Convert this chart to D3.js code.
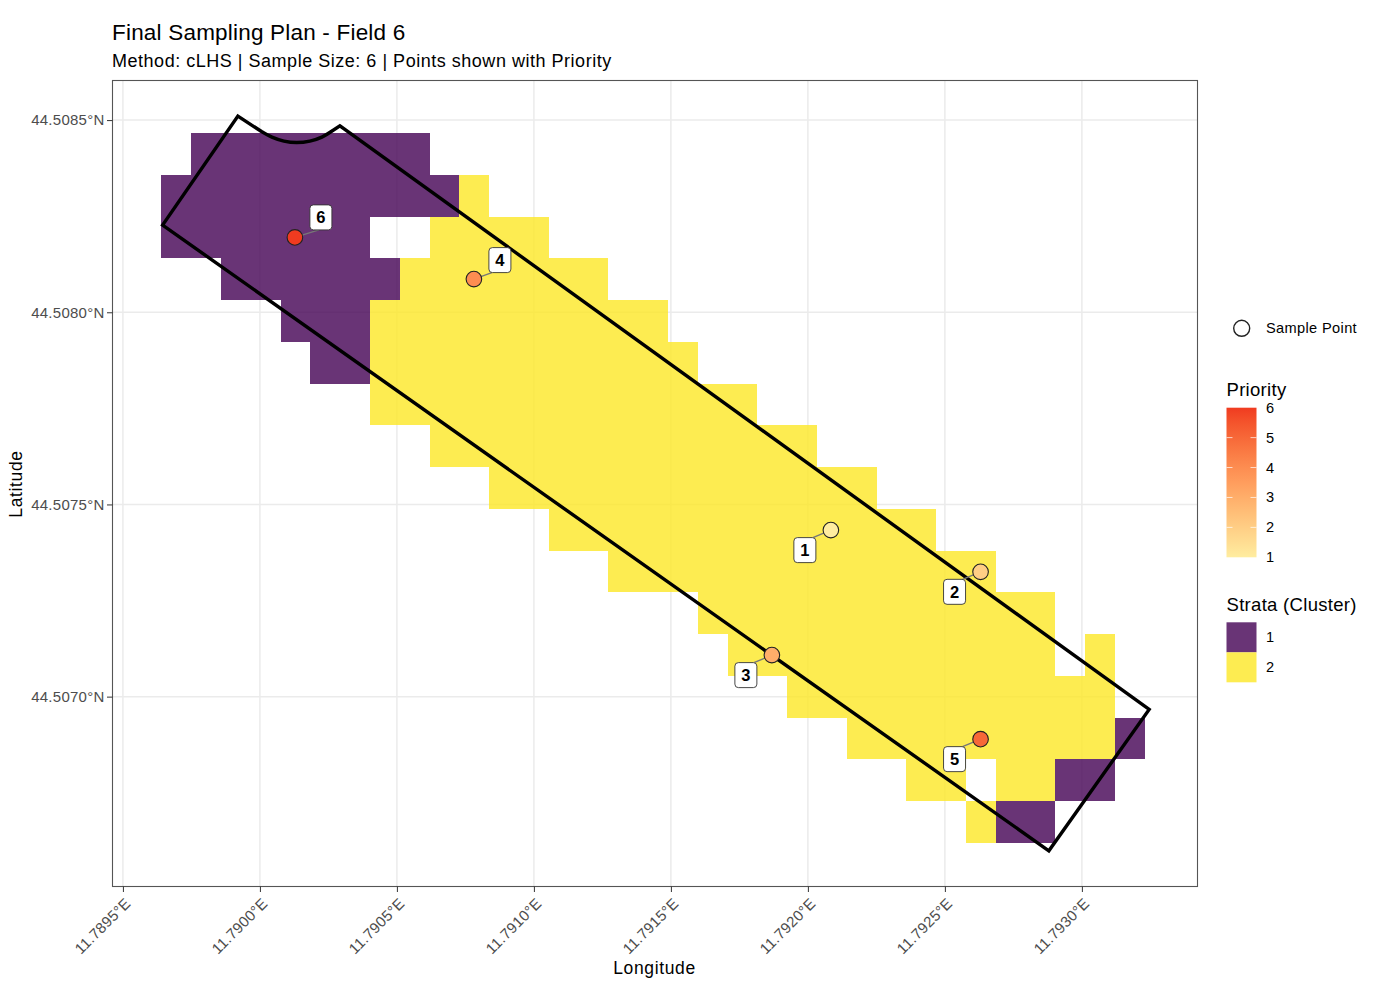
<!DOCTYPE html>
<html>
<head>
<meta charset="utf-8">
<script src="https://d3js.org/d3.v7.min.js"></script>
<style>
  body { margin: 0; background: #fff; }
  text { font-family: "Liberation Sans", Arial, sans-serif; }
</style>
</head>
<body>
<script>
// Data
const lonTicks = [11.7895, 11.79, 11.7905, 11.791, 11.7915, 11.792, 11.7925, 11.793];
const lonTickLabels = ["11.7895°E", "11.7900°E", "11.7905°E", "11.7910°E", "11.7915°E", "11.7920°E", "11.7925°E", "11.7930°E"];
const latTicks = [44.507, 44.5075, 44.508, 44.5085];
const latTickLabels = ["44.5070°N", "44.5075°N", "44.5080°N", "44.5085°N"];

// raster cell centres
const gridLons = [
  11.7896949, 11.7898037, 11.7899124, 11.7900212, 11.7901299, 11.7902387, 11.7903475, 11.7904562,
  11.790565, 11.7906737, 11.7907825, 11.7908913, 11.791, 11.7911088, 11.7912175, 11.7913263,
  11.7914351, 11.7915438, 11.7916526, 11.7917613, 11.7918701, 11.7919789, 11.7920876, 11.7921964,
  11.7923051, 11.7924139, 11.7925227, 11.7926314, 11.7927402, 11.7928489, 11.7929577, 11.7930665,
  11.7931752
];
const gridLats = [
  44.5084119, 44.5083032, 44.5081946, 44.5080859, 44.5079773, 44.5078686, 44.50776, 44.5076513,
  44.5075427, 44.507434, 44.5073254, 44.5072167, 44.5071081, 44.5069994, 44.5068908, 44.5067821,
  44.5066735
];
const cellLon = 0.00010876;
const cellLat = 0.00010865;

// runs of cells: row, first column, last column
const cluster1Runs = [
  [0, 1, 8], [1, 0, 9], [2, 0, 6], [3, 2, 7], [4, 4, 6], [5, 5, 6],
  [14, 32, 32], [15, 30, 31], [16, 28, 29]
];
const cluster2Runs = [
  [1, 10, 10], [2, 9, 12], [3, 8, 14], [4, 7, 16], [5, 7, 17], [6, 7, 19], [7, 9, 21], [8, 11, 23],
  [9, 13, 25], [10, 15, 27], [11, 18, 29], [12, 19, 29], [12, 31, 31], [13, 21, 31], [14, 23, 31],
  [15, 25, 26], [15, 28, 29], [16, 27, 27]
];

// field boundary: corners, and the curved notch along the top edge
const notchLon = [
  11.7900073, 11.7900438, 11.7900876, 11.7901339, 11.7901825, 11.7902263, 11.7902591
];
const notchLat = [
  44.5084696, 44.5084558, 44.5084454, 44.5084415, 44.5084454, 44.5084558, 44.5084696
];
const cornerLon = [11.7899197, 11.790292, 11.7932456, 11.7928795, 11.7896449];
const cornerLat = [44.5085104, 44.5084852, 44.5069667, 44.5065988, 44.5082268];

// sample points
const pointPriority = [1, 2, 3, 4, 5, 6];
const pointLon = [11.7920839, 11.7926302, 11.7918686, 11.790781, 11.7926302, 11.7901277];
const pointLat = [44.5074332, 44.5073247, 44.507108, 44.5080863, 44.5068894, 44.5081948];

const priorityTicks = [1, 2, 3, 4, 5, 6];
const strataLabels = ["1", "2"];
const strataColors = ["#440154", "#FDE725"];
const priorityColors = ["#FFEDA0", "#F03B20"];

/********************************************************/
const svgWidth = 1376;
const svgHeight = 1001;
const panel = { left: 112.5, right: 1197.5, top: 80.5, bottom: 886.5 };
const greyText = "#4d4d4d";

const svg = d3.select("body").append("svg")
  .attr("width", svgWidth)
  .attr("height", svgHeight)
  .style("display", "block");

const x = d3.scaleLinear().domain([11.789462, 11.793422]).range([panel.left, panel.right]);
const y = d3.scaleLinear().domain([44.506506, 44.508603]).range([panel.bottom, panel.top]);
const priorityColor = d3.scaleLinear().domain([1, 6]).range(priorityColors).interpolate(d3.interpolateLab);
const priorityY = d3.scaleLinear().domain([1, 6]).range([557.3, 407.7]);

/********************************************************/
// grid lines
svg.append("g").selectAll("line").data(lonTicks).enter().append("line")
  .attr("x1", (d) => x(d)).attr("x2", (d) => x(d))
  .attr("y1", panel.top).attr("y2", panel.bottom)
  .attr("stroke", "#ebebeb").attr("stroke-width", 1.5);
svg.append("g").selectAll("line").data(latTicks).enter().append("line")
  .attr("x1", panel.left).attr("x2", panel.right)
  .attr("y1", (d) => y(d)).attr("y2", (d) => y(d))
  .attr("stroke", "#ebebeb").attr("stroke-width", 1.5);

// raster cells
function runsToCells(runs, cluster) {
  const cells = [];
  runs.forEach(([row, first, last]) => {
    for (let c = first; c <= last; c++) {
      cells.push({ lon: gridLons[c], lat: gridLats[row], cluster: cluster });
    }
  });
  return cells;
}
const cells = runsToCells(cluster1Runs, 0).concat(runsToCells(cluster2Runs, 1));

svg.append("g").selectAll("rect").data(cells).enter().append("rect")
  .attr("x", (d) => x(d.lon - cellLon / 2))
  .attr("y", (d) => y(d.lat + cellLat / 2))
  .attr("width", (d) => x(d.lon + cellLon / 2) - x(d.lon - cellLon / 2))
  .attr("height", (d) => y(d.lat - cellLat / 2) - y(d.lat + cellLat / 2))
  .attr("fill", (d) => strataColors[d.cluster])
  .attr("fill-opacity", 0.8)
  .attr("shape-rendering", "crispEdges");

// field boundary
const cornerLine = d3.line().x((d) => x(d[0])).y((d) => y(d[1]));
const notchLine = d3.line().x((d) => x(d[0])).y((d) => y(d[1])).curve(d3.curveCatmullRom);
const corners = d3.zip(cornerLon, cornerLat);
svg.append("path")
  .attr("d", cornerLine(corners.slice(0, 1))
    + notchLine(d3.zip(notchLon, notchLat)).replace("M", "L")
    + "L" + cornerLine(corners.slice(1)).slice(1) + "Z")
  .attr("fill", "none")
  .attr("stroke", "#000")
  .attr("stroke-width", 3.4)
  .attr("stroke-linejoin", "miter");

/********************************************************/
// point labels: offset of the box from its point, where the leader meets the box
const labelOffsets = {
  1: { dx: -26, dy: 20, segX: 8 },
  2: { dx: -26, dy: 20, segX: 8 },
  3: { dx: -26, dy: 20, segX: 8 },
  4: { dx: 26, dy: -19, segX: -8 },
  5: { dx: -26, dy: 20, segX: 8 },
  6: { dx: 26, dy: -20, segX: -2 },
};
const boxW = 22;
const boxH = 25;
const points = pointPriority.map((p, i) => ({ priority: p, lon: pointLon[i], lat: pointLat[i] }));

svg.append("g").selectAll("line").data(points).enter().append("line")
  .attr("x1", (d) => x(d.lon))
  .attr("y1", (d) => y(d.lat))
  .attr("x2", (d) => x(d.lon) + labelOffsets[d.priority].dx + labelOffsets[d.priority].segX)
  .attr("y2", (d) => y(d.lat) + labelOffsets[d.priority].dy + (labelOffsets[d.priority].dy > 0 ? -boxH / 2 : boxH / 2))
  .attr("stroke", "#777").attr("stroke-width", 1.4);

svg.append("g").selectAll("circle").data(points).enter().append("circle")
  .attr("cx", (d) => x(d.lon))
  .attr("cy", (d) => y(d.lat))
  .attr("r", 7.8)
  .attr("fill", (d) => priorityColor(d.priority))
  .attr("stroke", "#222").attr("stroke-width", 1.1);

const labelGroup = svg.append("g").selectAll("g").data(points).enter().append("g")
  .attr("transform", (d) => `translate(${x(d.lon) + labelOffsets[d.priority].dx}, ${y(d.lat) + labelOffsets[d.priority].dy})`);
labelGroup.append("rect")
  .attr("x", -boxW / 2).attr("y", -boxH / 2)
  .attr("width", boxW).attr("height", boxH)
  .attr("rx", 3.5)
  .attr("fill", "#fff").attr("stroke", "#333").attr("stroke-width", 0.9);
labelGroup.append("text")
  .text((d) => d.priority)
  .attr("text-anchor", "middle")
  .attr("y", 6)
  .attr("font-size", 16.5)
  .attr("font-weight", "bold")
  .attr("fill", "#000");

/********************************************************/
// panel border and axes
svg.append("rect")
  .attr("x", panel.left).attr("y", panel.top)
  .attr("width", panel.right - panel.left).attr("height", panel.bottom - panel.top)
  .attr("fill", "none").attr("stroke", "#555").attr("stroke-width", 1.1);

const bottomAxis = d3.axisBottom(x).tickValues(lonTicks).tickSize(5.5).tickFormat((d, i) => lonTickLabels[i]);
const leftAxis = d3.axisLeft(y).tickValues(latTicks).tickSize(5.5).tickFormat((d, i) => latTickLabels[i]);

const xAxisGroup = svg.append("g").attr("transform", `translate(0, ${panel.bottom})`).call(bottomAxis);
const yAxisGroup = svg.append("g").attr("transform", `translate(${panel.left}, 0)`).call(leftAxis);
xAxisGroup.select(".domain").remove();
yAxisGroup.select(".domain").remove();
svg.selectAll(".tick line").attr("stroke", "#333").attr("stroke-width", 1);

xAxisGroup.selectAll("text")
  .attr("font-size", 15)
  .attr("font-family", "Liberation Sans")
  .attr("letter-spacing", 0.25)
  .attr("fill", greyText)
  .attr("text-anchor", "end")
  .attr("dy", 0)
  .attr("y", 0)
  .attr("transform", "translate(8, 18) rotate(-45)");
yAxisGroup.selectAll("text")
  .attr("font-size", 15)
  .attr("font-family", "Liberation Sans")
  .attr("letter-spacing", 0.25)
  .attr("fill", greyText)
  .attr("x", -8);

svg.append("text").attr("x", 654.5).attr("y", 974)
  .attr("text-anchor", "middle").attr("font-size", 17.5).attr("letter-spacing", 0.65).attr("fill", "#000").text("Longitude");
svg.append("text")
  .attr("transform", "translate(22, 484) rotate(-90)")
  .attr("text-anchor", "middle").attr("font-size", 17.5).attr("letter-spacing", 0.65).attr("fill", "#000").text("Latitude");

// titles
svg.append("text").attr("x", 112).attr("y", 39.5)
  .attr("font-size", 22.5).attr("letter-spacing", 0.2).attr("fill", "#000").text("Final Sampling Plan - Field 6");
svg.append("text").attr("x", 112).attr("y", 66.5)
  .attr("font-size", 18).attr("letter-spacing", 0.52).attr("fill", "#000").text("Method: cLHS | Sample Size: 6 | Points shown with Priority");

/********************************************************/
// legends
svg.append("circle").attr("cx", 1241.7).attr("cy", 328.3).attr("r", 8)
  .attr("fill", "#fff").attr("stroke", "#222").attr("stroke-width", 1.4);
svg.append("text").attr("x", 1266).attr("y", 333)
  .attr("font-size", 14.6).attr("letter-spacing", 0.35).attr("fill", "#000").text("Sample Point");

svg.append("text").attr("x", 1226.5).attr("y", 396)
  .attr("font-size", 18.5).attr("letter-spacing", 0.3).attr("fill", "#000").text("Priority");

const defs = svg.append("defs");
const gradient = defs.append("linearGradient").attr("id", "priorityGradient")
  .attr("x1", 0).attr("x2", 0).attr("y1", 1).attr("y2", 0);
d3.range(0, 1.01, 0.1).forEach((t) => {
  gradient.append("stop").attr("offset", t).attr("stop-color", priorityColor(1 + 5 * t));
});
svg.append("rect").attr("x", 1226.5).attr("y", priorityY(6))
  .attr("width", 30).attr("height", priorityY(1) - priorityY(6))
  .attr("fill", "url(#priorityGradient)");

const priorityTick = svg.append("g").selectAll("g").data(priorityTicks).enter().append("g");
priorityTick.filter((d) => d > 1 && d < 6).append("line")
  .attr("x1", 1226.5).attr("x2", 1232.5)
  .attr("y1", (d) => priorityY(d)).attr("y2", (d) => priorityY(d))
  .attr("stroke", "#fff").attr("stroke-opacity", 0.7);
priorityTick.filter((d) => d > 1 && d < 6).append("line")
  .attr("x1", 1250.5).attr("x2", 1256.5)
  .attr("y1", (d) => priorityY(d)).attr("y2", (d) => priorityY(d))
  .attr("stroke", "#fff").attr("stroke-opacity", 0.7);
priorityTick.append("text")
  .attr("x", 1266).attr("y", (d) => priorityY(d) + 5)
  .attr("font-size", 14.6).attr("fill", "#000").text((d) => d);

svg.append("text").attr("x", 1226.5).attr("y", 610.5)
  .attr("font-size", 18.5).attr("letter-spacing", 0.3).attr("fill", "#000").text("Strata (Cluster)");

const strataKey = d3.scaleBand().domain(strataLabels).range([622.3, 682.3]);
svg.append("g").selectAll("rect").data(strataLabels).enter().append("rect")
  .attr("x", 1226.5).attr("y", (d) => strataKey(d))
  .attr("width", 30).attr("height", strataKey.bandwidth())
  .attr("fill", (d, i) => strataColors[i]).attr("fill-opacity", 0.8);
svg.append("g").selectAll("text").data(strataLabels).enter().append("text")
  .attr("x", 1266).attr("y", (d) => strataKey(d) + strataKey.bandwidth() / 2 + 5)
  .attr("font-size", 14.6).attr("fill", "#000").text((d) => d);
</script>
</body>
</html>
